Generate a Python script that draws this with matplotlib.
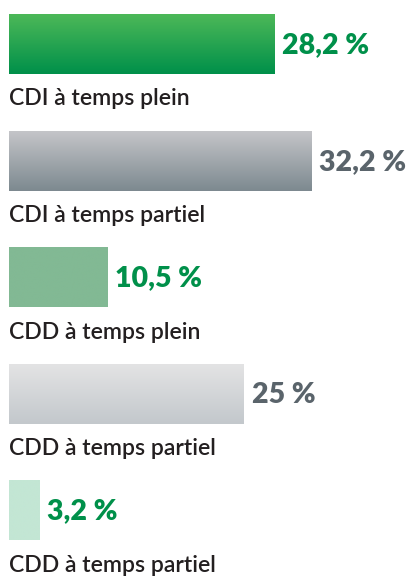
import matplotlib
matplotlib.use("Agg")
import matplotlib.pyplot as plt
import numpy as np
from matplotlib.colors import LinearSegmentedColormap

categories = ["CDI à temps plein", "CDI à temps partiel", "CDD à temps plein",
              "CDD à temps partiel", "CDD à temps partiel"]
values = [28.2, 32.2, 10.5, 25, 3.2]
value_labels = ["28,2 %", "32,2 %", "10,5 %", "25 %", "3,2 %"]

grad_top = ["#4cb858", "#c4c5c8", "#82b994", "#e3e3e4", "#c3e6d4"]
grad_bot = ["#00904a", "#7d8990", "#82b994", "#c3c8cc", "#c3e6d4"]
val_colors = ["#00904a", "#5a646b", "#00904a", "#5a646b", "#00904a"]

W, H = 407, 577
fig = plt.figure(figsize=(W / 100, H / 100), dpi=100)
ax = fig.add_axes([9 / W, 0, 1 - 9 / W, 1])
ax.set_axis_off()

px_per_unit = 9.4
spacing = 116.6
bh = 60 / spacing

font = "Lato"
for i, (v, lab, vl) in enumerate(zip(values, categories, value_labels)):
    cmap = LinearSegmentedColormap.from_list(f"g{i}", [grad_top[i], grad_bot[i]])
    grad = np.linspace(0, 1, 64).reshape(-1, 1)
    ax.imshow(grad, cmap=cmap, aspect="auto",
              extent=(0, v, i + bh / 2, i - bh / 2), interpolation="bicubic", zorder=1)
    ax.text(v + 0.8, i + 0.01, vl, ha="left", va="center", fontsize=20.5,
            fontweight="heavy", color=val_colors[i], family=font)
    ax.text(0, i + 0.47, lab, ha="left", va="center", fontsize=16.6,
            fontweight="semibold", color="#231f20", family=font)

ax.set_xlim(0, (W - 9) / px_per_unit)
ax.set_ylim((H - 44) / spacing, -44 / spacing)
fig.savefig("out.png", dpi=100)
